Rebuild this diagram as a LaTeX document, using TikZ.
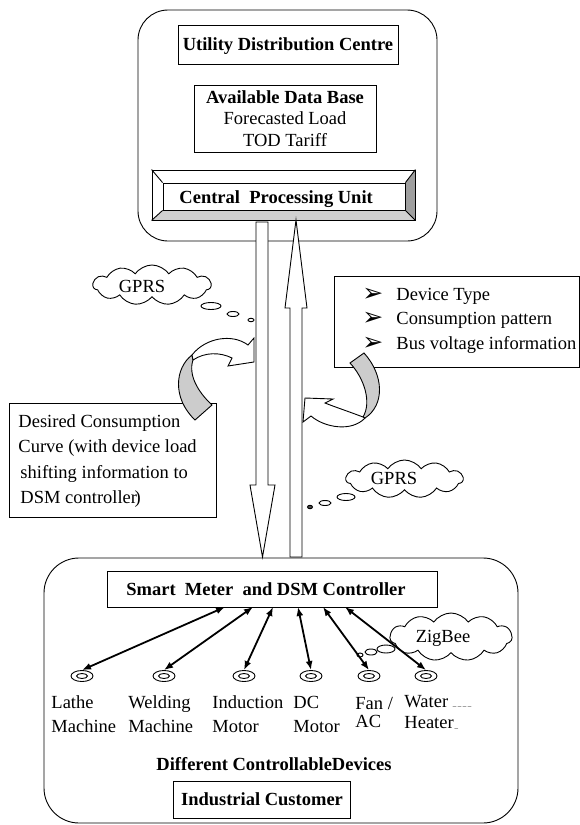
\documentclass[tikz,border=0pt]{standalone}
\usepackage{fontspec}
\setmainfont{Liberation Serif}
\newfontfamily\dejavu{DejaVu Sans}
\usetikzlibrary{shapes.symbols,shapes.geometric,arrows.meta}
\begin{document}
\begin{tikzpicture}[x=1pt,y=-1pt,line width=0.9pt,
  txt/.style={inner sep=0, font=\fontsize{18.5}{22}\selectfont},
  btxt/.style={inner sep=0, font=\fontsize{18.5}{22}\selectfont\bfseries},
  box/.style={draw, inner sep=0},
  cloudy/.style={draw, cloud, cloud puffs=11, cloud puff arc=110, aspect=2.8, inner sep=0},
  bub/.style={draw, ellipse, inner sep=0},
  dev/.style={draw, ellipse, inner sep=0, minimum width=22, minimum height=11},
  devin/.style={draw, ellipse, inner sep=0, minimum width=11, minimum height=5},
  dar/.style={line width=1.8pt, {Latex[length=9pt,width=7pt]}-{Latex[length=9pt,width=7pt]}},
  blockar/.style={draw, fill=white, line join=miter},
  ribbon/.style={draw, fill=gray!40},
  white arrow/.style={draw, fill=white},
  bul/.style={inner sep=0, font=\dejavu\fontsize{25}{27}\selectfont}
]
\useasboundingbox (0,0) rectangle (580,825);

% ---------------- Utility distribution centre ----------------
\node[box, rounded corners=30, minimum width=299, minimum height=231] (utility) at (287.5,125.5) {};
\node[box, minimum width=220, minimum height=39] (udc) at (288,44.5) {};
\node[btxt, anchor=base] (udct) at (288,50) {Utility Distribution Centre};
\node[box, minimum width=182, minimum height=67] (adb) at (285,118.5) {};
\node[btxt, anchor=base] (adb1) at (285,103) {Available Data Base};
\node[txt, anchor=base] (adb2) at (285,124.5) {Forecasted Load};
\node[txt, anchor=base] (adb3) at (285,146) {TOD Tariff};

% central processing unit (bevelled)
\fill[gray!37] (152,220) -- (163,210) -- (405,210) -- (415,220) -- cycle;
\fill[gray!75] (405,183) -- (415,170) -- (415,220) -- (405,210) -- cycle;
\node[box, minimum width=263, minimum height=50] (cpuout) at (283.5,195) {};
\node[box, minimum width=242, minimum height=27] (cpu) at (284,196.5) {};
\draw (cpuout.north west) -- (cpu.north west);
\draw (cpuout.north east) -- (cpu.north east);
\draw (cpuout.south west) -- (cpu.south west);
\draw (cpuout.south east) -- (cpu.south east);
\node[btxt, anchor=base west] (cput) at (179,203) {Central\ \ Processing Unit};

% ---------------- block arrows ----------------
\draw[blockar] (256,222) -- (268,222) -- (268,485) -- (275,485) -- (262.5,557) -- (250,485) -- (256,485) -- cycle;
\draw[blockar] (296,220) -- (307,308) -- (302,308) -- (302,557) -- (290,557) -- (290,308) -- (285,308) -- cycle;

% ---------------- left GPRS cloud ----------------
\node[cloudy, minimum width=118, minimum height=40] (gprsA) at (152,285) {};
\node[txt, anchor=base] (gprsAt) at (142,292) {GPRS};
\node[bub, minimum width=20, minimum height=7] (ba1) at (211,306) {};
\node[bub, minimum width=12, minimum height=5] (ba2) at (233,314) {};
\node[bub, minimum width=6, minimum height=3.5] (ba3) at (251,320) {};

% ---------------- desired consumption box ----------------
\node[box, minimum width=207, minimum height=114] (desired) at (112.5,460) {};
\node[txt, anchor=base west] (des1) at (18,427) {Desired Consumption};
\node[txt, anchor=base west] (des2) at (18,452.5) {Curve (with device load};
\node[txt, anchor=base west] (des3) at (20,478) {shifting information to};
\node[txt, anchor=base west] (des4) at (20,503.5) {DSM controller\kern-2.5pt)};

% left curved arrow
\draw[ribbon] (192,355) .. controls (175,368) and (172,398) .. (195,420) -- (212,405)
   .. controls (198,392) and (188,375) .. (193,360) -- cycle;
\draw[white arrow] (192,355) .. controls (205,338) and (232,333) .. (248,345) -- (254,338)
   -- (254,362) -- (228,366) -- (232,358) .. controls (220,352) and (205,352) .. (193,360) -- cycle;

% ---------------- device info box ----------------
\node[box, minimum width=245, minimum height=91] (info) at (456.75,321.5) {};
\node[bul, anchor=base west] (b1) at (362,301) {➢};
\node[bul, anchor=base west] (b2) at (362,325.5) {➢};
\node[bul, anchor=base west] (b3) at (362,350) {➢};
\node[txt, anchor=base west] (i1) at (396,300) {Device Type};
\node[txt, anchor=base west] (i2) at (396,324.5) {Consumption pattern};
\node[txt, anchor=base west] (i3) at (396,349) {Bus voltage information};

% right curved arrow
\draw[ribbon] (350,363) .. controls (364,378) and (372,402) .. (363,417) -- (365,418)
   .. controls (385,405) and (384,375) .. (364,353) -- cycle;
\draw[white arrow] (363,417) .. controls (350,412) and (335,407) .. (325,403) -- (333,399)
   -- (305,398) -- (303,422) -- (311,416) .. controls (325,428) and (352,432) .. (365,418) -- cycle;

% ---------------- right GPRS cloud ----------------
\node[cloudy, minimum width=117, minimum height=38] (gprsB) at (404.5,479) {};
\node[txt, anchor=base] (gprsBt) at (394,484) {GPRS};
\node[bub, minimum width=18, minimum height=7] (bb1) at (346,497) {};
\node[bub, minimum width=12, minimum height=5] (bb2) at (325,503) {};
\node[bub, fill=black!70, minimum width=5, minimum height=3.5] (bb3) at (310,507) {};

% ---------------- industrial customer ----------------
\node[box, rounded corners=35, minimum width=474, minimum height=265] (customer) at (281,690.5) {};
\node[box, minimum width=330, minimum height=36] (sm) at (272,589) {};
\node[btxt, anchor=base] (smt) at (266,595) {Smart\ \ Meter\ \ and DSM Controller};

% ZigBee cloud
\node[cloudy, minimum width=122, minimum height=48] (zig) at (451,637) {};
\node[txt, anchor=base] (zigt) at (443,642) {ZigBee};
\node[bub, minimum width=18, minimum height=8] (bz1) at (386,649) {};
\node[bub, minimum width=12, minimum height=6] (bz2) at (371,652) {};
\node[bub, minimum width=6, minimum height=4] (bz3) at (360,655) {};

% devices
\foreach \i/\x in {1/82,2/164,3/244,4/311,5/369,6/426}{
  \node[dev] (d\i) at (\x,676) {};
  \node[devin] (di\i) at (\x,676) {};
}
\foreach \i/\x in {1/225,2/253,3/273,4/298,5/323,6/345}{
  \coordinate (s\i) at (\x,607);
  \draw[dar] (s\i) -- (d\i.north);
}

\node[txt, anchor=base west] (l1a) at (51,708) {Lathe};
\node[txt, anchor=base west] (l1b) at (51,732) {Machine};
\node[txt, anchor=base west] (l2a) at (128,708) {Welding};
\node[txt, anchor=base west] (l2b) at (128,732) {Machine};
\node[txt, anchor=base west] (l3a) at (212,708) {Induction};
\node[txt, anchor=base west] (l3b) at (212,732) {Motor};
\node[txt, anchor=base west] (l4a) at (293,708) {DC};
\node[txt, anchor=base west] (l4b) at (293,732) {Motor};
\node[txt, anchor=base west] (l5a) at (355,709) {Fan /};
\node[txt, anchor=base west] (l5b) at (355,727) {AC};
\node[txt, anchor=base west] (l6a) at (404,707) {Water {\fontsize{7}{7}\selectfont\raisebox{1pt}{\_\kern1.5pt\_\kern1.5pt\_\kern1.5pt\_}}};
\node[txt, anchor=base west] (l6b) at (404,728) {Heater\kern1pt{\fontsize{7}{7}\selectfont\_}};

\node[btxt, anchor=base] (diff) at (274,770) {Different ControllableDevices};
\node[box, minimum width=177, minimum height=37] (ic) at (261.5,799.5) {};
\node[btxt, anchor=base] (ict) at (262,805) {Industrial Customer};
\end{tikzpicture}
\end{document}
